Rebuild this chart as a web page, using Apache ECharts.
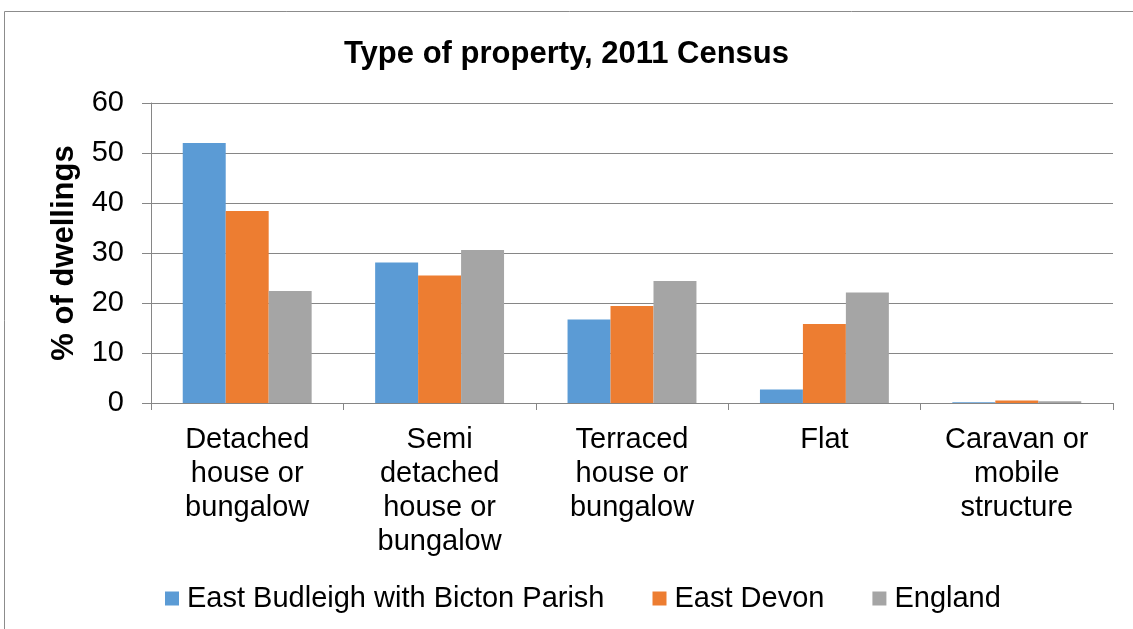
<!DOCTYPE html>
<html><head><meta charset="utf-8">
<script src="https://cdn.jsdelivr.net/npm/echarts@6/dist/echarts.min.js"></script>
<style>html,body{margin:0;padding:0;background:#fff}#c{width:1133px;height:629px}</style>
</head><body><div id="c"></div>
<script>
const categories = ["Detached\nhouse or\nbungalow", "Semi\ndetached\nhouse or\nbungalow", "Terraced\nhouse or\nbungalow", "Flat", "Caravan or\nmobile\nstructure"];
const seriesNames = ["East Budleigh with Bicton Parish", "East Devon", "England"];
const eastBudleigh = [52.0, 28.1, 16.7, 2.7, 0.15];
const eastDevon = [38.4, 25.5, 19.4, 15.8, 0.5];
const england = [22.4, 30.6, 24.4, 22.1, 0.35];
const colors = ["#5b9bd5", "#ed7d31", "#a5a5a5"];
const FONT = "Liberation Sans, Arial, sans-serif";

const chart = echarts.init(document.getElementById('c'));
const data = [eastBudleigh, eastDevon, england];
chart.setOption({
  animation: false,
  color: colors,
  graphic: [{type:'rect', shape:{x:4.5,y:11.5,width:1140,height:640}, style:{fill:'none', stroke:'#8c8c8c', lineWidth:1}}],
  title: {text: "Type of property, 2011 Census", left: 'center', top: 34,
    textStyle: {fontFamily: FONT, fontSize: 31, fontWeight: 'bold', color: '#000'}},
  legend: {top: 579, left: 160, itemWidth: 14, itemHeight: 14, itemGap: 48, icon: 'rect',
    textStyle: {fontFamily: FONT, fontSize: 29, color: '#000', padding: [0,0,0,3]},
    data: seriesNames},
  grid: {left: 151, right: 20, top: 103, bottom: 226, containLabel: false},
  xAxis: {type: 'category', data: categories,
    axisLine: {lineStyle: {color: '#868686'}},
    axisTick: {show: true, length: 7, lineStyle: {color: '#868686'}},
    axisLabel: {fontFamily: FONT, fontSize: 29, color: '#000', lineHeight: 34, margin: 20, interval: 0}},
  yAxis: {type: 'value', min: 0, max: 60, interval: 10,
    name: '% of dwellings', nameLocation: 'middle', nameGap: 71, nameRotate: 90,
    nameTextStyle: {fontFamily: FONT, fontSize: 31, fontWeight: 'bold', color: '#000'},
    axisLine: {show: true, lineStyle: {color: '#868686'}},
    axisTick: {show: true, length: 9, lineStyle: {color: '#868686'}},
    axisLabel: {fontFamily: FONT, fontSize: 29, color: '#000', margin: 27},
    splitLine: {lineStyle: {color: '#868686'}}},
  series: seriesNames.map((n, i) => ({
    name: n, type: 'bar', data: data[i], barGap: '0%', barCategoryGap: '33%'
  }))
});
</script></body></html>
